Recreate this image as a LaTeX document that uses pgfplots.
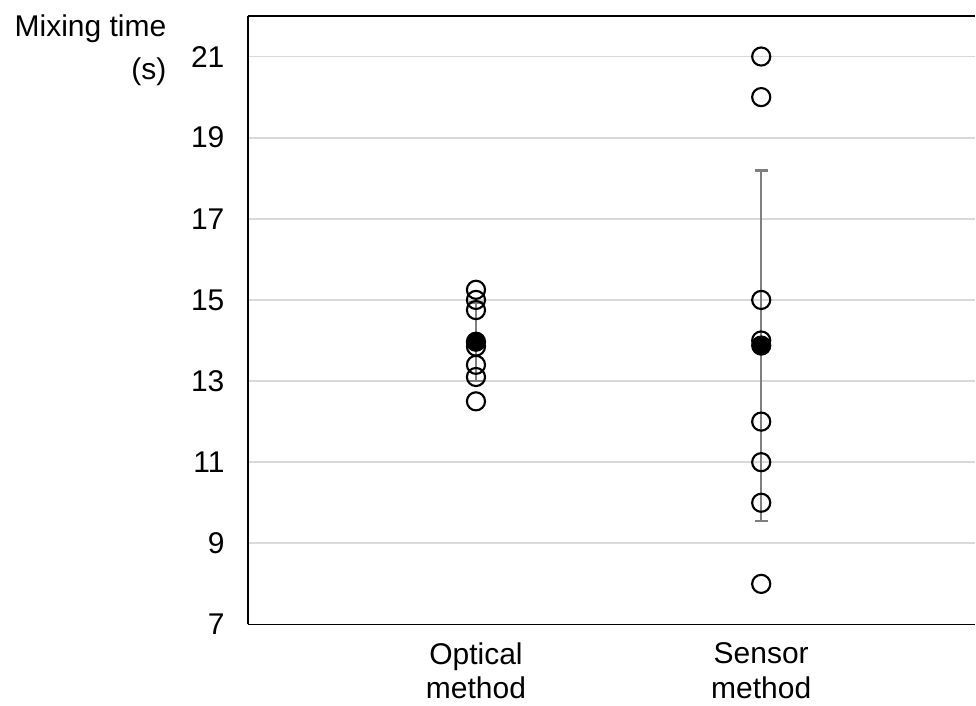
\documentclass[border=0pt]{standalone}
\usepackage{fontspec}
\setmainfont{Liberation Sans}
\usepackage{pgfplots}
\pgfplotsset{compat=1.18}
\definecolor{gridgray}{HTML}{D9D9D9}
\definecolor{errgray}{HTML}{7F7F7F}
\begin{document}
\begin{tikzpicture}
\begin{axis}[
  name=ax,
  width=546pt, height=456.75pt, scale only axis,
  xmin=0.2, xmax=2.75, ymin=7, ymax=22,
  axis x line*=box, axis y line*=left,
  axis line style={black, line width=1.3pt},
  ytick={7,9,...,21},
  xtick={1,2},
  xticklabels={Optical\\method, Sensor\\method},
  xticklabel style={align=center, yshift=-10pt},
  yticklabel style={xshift=-14pt},
  ymajorgrids,
  major grid style={gridgray, line width=1.3pt},
  major tick length=0pt,
  tick label style={font=\fontsize{22.5}{26}\selectfont},
  /pgf/number format/assume math mode=true,
  clip=false,
]
% individual runs
\addplot[only marks, mark=o, mark size=6.8pt, mark options={black, line width=1.6pt}] coordinates {
  (1,15.25) (1,15.0) (1,14.75) (1,13.85) (1,13.4) (1,13.1) (1,12.5)
  (2,21) (2,20) (2,15) (2,14) (2,12) (2,11) (2,10) (2,8)
};
% standard deviation
\addplot[only marks, mark=none,
  error bars/.cd, y dir=both, y explicit,
  error bar style={errgray, line width=1.8pt},
  error mark options={rotate=90, errgray, mark size=5pt, line width=1.8pt}]
  coordinates {
  (1,13.97) +- (0,0.97)
  (2,13.875) +- (0,4.32)
};
% mean
\addplot[only marks, mark=*, mark size=6.8pt, mark options={fill=black, draw=black, line width=1.6pt}] coordinates {
  (1,13.97) (2,13.875)
};
\node[anchor=north east, align=right, inner sep=0pt, font=\fontsize{22.5}{25}\selectfont]
  at ([xshift=-61pt, yshift=1pt]rel axis cs:0,1) {Mixing time\\[7pt](s)};
\end{axis}
\path (ax.south west) ++(-186pt,-60.75pt);
\path (ax.north east) ++(0,12pt);
\end{tikzpicture}
\end{document}
